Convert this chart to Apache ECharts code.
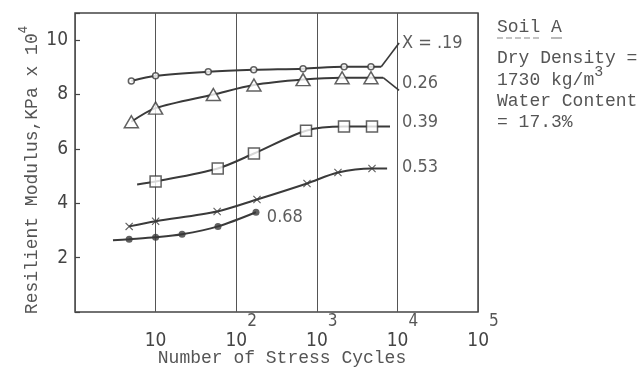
<!DOCTYPE html>
<html>
<head>
<meta charset="utf-8">
<script src="https://cdn.jsdelivr.net/npm/echarts@6/dist/echarts.min.js"></script>
<style>
html,body{margin:0;padding:0;background:#fff;}
#chart{width:642px;height:370px;}
</style>
</head>
<body>
<div id="chart"></div>
<script>
// ---- data ----
const cycles19 = [5, 10, 45, 165, 675, 2180, 4700];
const modulus19 = [8.5, 8.69, 8.84, 8.91, 8.95, 9.02, 9.02];
const cycles26 = [5, 10, 52, 166, 675, 2060, 4700];
const modulus26 = [7.0, 7.5, 8.0, 8.35, 8.55, 8.62, 8.62];
const cycles39 = [10, 59, 166, 735, 2175, 4840];
const modulus39 = [4.8, 5.28, 5.83, 6.67, 6.82, 6.82];
const cycles53 = [4.7, 10, 58, 181, 756, 1830, 4840];
const modulus53 = [3.15, 3.34, 3.7, 4.14, 4.73, 5.13, 5.28];
const cycles68 = [4.7, 10, 21.3, 59.4, 176];
const modulus68 = [2.68, 2.75, 2.86, 3.15, 3.67];

// curve extensions (line only, no marker)
const head39 = [[5.9, 4.69]];
const tail39 = [[8100, 6.82]];
const tail53 = [[7450, 5.28]];
const head68 = [[2.96, 2.64]];
const leader19 = [[6300, 9.02], [10500, 9.9]];
const leader26 = [[6660, 8.62], [10500, 8.15]];

// curve labels
const labelText = ['X = .19', '0.26', '0.39', '0.53', '0.68'];
const labelCycles = [11400, 11400, 11400, 11400, 240];
const labelModulus = [9.9, 8.4, 6.97, 5.32, 3.48];

const yTicks = [2, 4, 6, 8, 10];

// ---- build ----
const zip = (xs, ys) => xs.map((x, i) => [x, ys[i]]);
const lineColor = '#3a3a3a';
const lineBase = {
  type: 'line', smooth: 0.3, showSymbol: false, silent: true,
  lineStyle: {color: lineColor, width: 2}, z: 2
};
const markerBase = {type: 'scatter', silent: true, z: 3};
const xPath = 'path://M0,1 L1,0 L5,4 L9,0 L10,1 L6,5 L10,9 L9,10 L5,6 L1,10 L0,9 L4,5 Z';

const series = [
  Object.assign({}, lineBase, {data: zip(cycles19, modulus19).concat([leader19[0]])}),
  Object.assign({}, lineBase, {smooth: false, lineStyle: {color: lineColor, width: 1.6}, data: leader19}),
  Object.assign({}, lineBase, {data: zip(cycles26, modulus26).concat([leader26[0]])}),
  Object.assign({}, lineBase, {smooth: false, lineStyle: {color: lineColor, width: 1.6}, data: leader26}),
  Object.assign({}, lineBase, {data: head39.concat(zip(cycles39, modulus39), tail39)}),
  Object.assign({}, lineBase, {data: zip(cycles53, modulus53).concat(tail53)}),
  Object.assign({}, lineBase, {data: head68.concat(zip(cycles68, modulus68))}),
  Object.assign({}, markerBase, {data: zip(cycles19, modulus19), symbol: 'circle', symbolSize: 6,
    itemStyle: {color: '#fff', borderColor: lineColor, borderWidth: 1.5}}),
  Object.assign({}, markerBase, {data: zip(cycles26, modulus26), symbol: 'triangle', symbolSize: [14, 12],
    itemStyle: {color: '#fff', borderColor: lineColor, borderWidth: 1.5}}),
  Object.assign({}, markerBase, {data: zip(cycles39, modulus39), symbol: 'rect', symbolSize: 11,
    itemStyle: {color: '#fff', borderColor: lineColor, borderWidth: 1.5}}),
  Object.assign({}, markerBase, {data: zip(cycles53, modulus53), symbol: xPath, symbolSize: 8,
    itemStyle: {color: lineColor}}),
  Object.assign({}, markerBase, {data: zip(cycles68, modulus68), symbol: 'circle', symbolSize: 7,
    itemStyle: {color: lineColor}}),
  {
    type: 'scatter', silent: true, symbolSize: 0, z: 4,
    data: labelText.map((t, i) => ({
      value: [labelCycles[i], labelModulus[i]],
      label: {show: true, position: 'right', distance: 0, formatter: t}
    })),
    label: {color: '#333', fontSize: 18,
      fontFamily: "'DejaVu Sans Condensed','Liberation Sans Narrow','DejaVu Sans',sans-serif"}
  }
];

const condensed = "'DejaVu Sans Condensed','Liberation Sans Narrow','DejaVu Sans',sans-serif";
const mono = "'Liberation Mono','DejaVu Sans Mono',monospace";
const textGray = '#555';

const chart = echarts.init(document.getElementById('chart'), null, {renderer: 'canvas'});
chart.setOption({
  backgroundColor: '#fff',
  animation: false,
  grid: {left: 75, right: 164, top: 13, height: 299, show: true,
    borderColor: '#444', borderWidth: 1.5, backgroundColor: 'transparent'},
  xAxis: {
    type: 'log', logBase: 10, min: 1, max: 100000,
    axisLine: {show: false}, axisTick: {show: false}, minorTick: {show: false},
    splitLine: {show: true, lineStyle: {color: '#555', width: 1}},
    axisLabel: {
      margin: 0, color: '#444',
      formatter: function (v) {
        const e = Math.round(Math.log10(v));
        if (e <= 0) return '';
        if (e === 1) return '{b|10}';
        return '{c|10}{s|' + e + '}';
      },
      rich: {
        b: {fontSize: 19, fontFamily: condensed, color: '#444', padding: [20, 0, 0, 0]},
        c: {fontSize: 19, fontFamily: condensed, color: '#444', padding: [20, 0, 0, 10]},
        s: {fontSize: 17, fontFamily: condensed, color: '#555', verticalAlign: 'top', padding: [1, 0, 0, 0]}
      }
    }
  },
  yAxis: {
    type: 'value', min: 0, max: 11, interval: 2,
    axisLine: {show: false},
    axisTick: {show: true, inside: true, length: 5, lineStyle: {color: '#444', width: 1.2}},
    splitLine: {show: false},
    axisLabel: {
      margin: 7, fontSize: 19, fontFamily: condensed, color: '#444',
      formatter: v => (yTicks.indexOf(v) >= 0 ? String(v) : '')
    }
  },
  graphic: [
    {type: 'text', x: 29, y: 170, rotation: Math.PI / 2, silent: true,
      style: {text: '{t|Resilient Modulus,KPa x 10}{s|4}', align: 'center', verticalAlign: 'middle',
        rich: {
          t: {fontSize: 18, fontFamily: mono, fill: textGray, padding: [6, 0, 0, 0]},
          s: {fontSize: 13, fontFamily: condensed, fill: textGray, verticalAlign: 'top'}
        }}},
    {type: 'text', x: 282, y: 358, silent: true,
      style: {text: 'Number of Stress Cycles', align: 'center', verticalAlign: 'middle',
        font: '18px ' + mono, fill: textGray}},
    {type: 'text', x: 497, y: 27, silent: true,
      style: {text: 'Soil A', align: 'left', verticalAlign: 'middle', font: '18px ' + mono, fill: textGray}},
    {type: 'line', silent: true, shape: {x1: 497, y1: 38, x2: 540, y2: 38},
      style: {stroke: '#888', lineWidth: 1.2, lineDash: [6, 3]}},
    {type: 'line', silent: true, shape: {x1: 551, y1: 38, x2: 562, y2: 38},
      style: {stroke: '#888', lineWidth: 1.2}},
    {type: 'text', x: 497, y: 58, silent: true,
      style: {text: 'Dry Density =', align: 'left', verticalAlign: 'middle', font: '18px ' + mono, fill: textGray}},
    {type: 'text', x: 497, y: 77, silent: true,
      style: {text: '{t|1730 kg/m}{s|3}', align: 'left', verticalAlign: 'middle',
        rich: {
          t: {fontSize: 18, fontFamily: mono, fill: textGray, padding: [6, 0, 0, 0]},
          s: {fontSize: 15, fontFamily: mono, fill: textGray, verticalAlign: 'top'}
        }}},
    {type: 'text', x: 497, y: 101, silent: true,
      style: {text: 'Water Content', align: 'left', verticalAlign: 'middle', font: '18px ' + mono, fill: textGray}},
    {type: 'text', x: 497, y: 122, silent: true,
      style: {text: '= 17.3%', align: 'left', verticalAlign: 'middle', font: '18px ' + mono, fill: textGray}}
  ],
  series: series
});
</script>
</body>
</html>
